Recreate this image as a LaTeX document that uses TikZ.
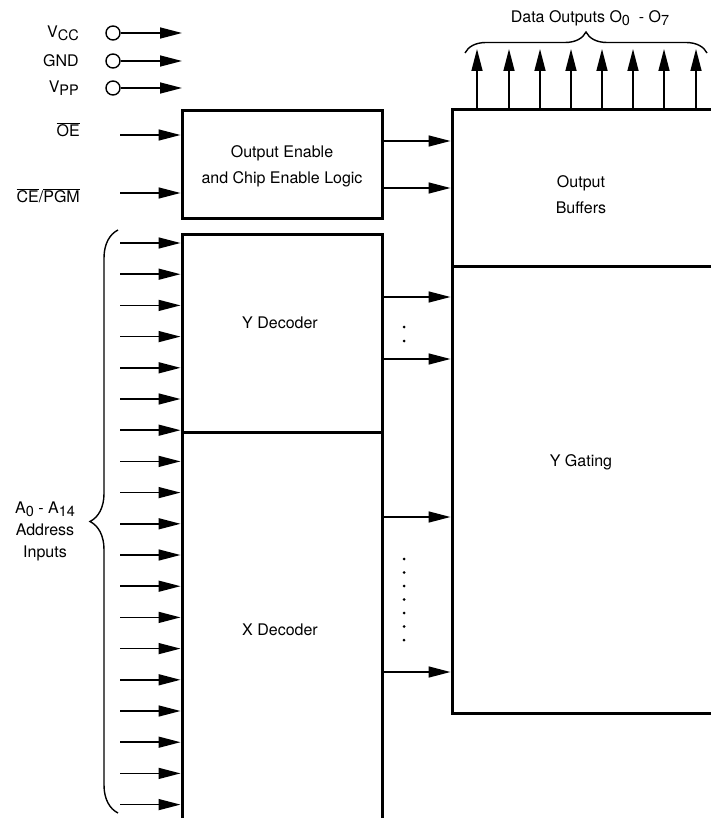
\documentclass[tikz,border=0pt]{standalone}
\usepackage{fontspec}
\setmainfont{TeX Gyre Heros}
\usetikzlibrary{arrows.meta,decorations.pathreplacing}
\newcommand{\sbs}[1]{\raisebox{-0.4ex}{\fontsize{14.5}{15}\selectfont #1}}
\begin{document}
\begin{tikzpicture}[x=1pt,y=-1pt,
  blk/.style={draw,line width=3pt,inner sep=0pt},
  sig/.style={line width=1.5pt,-{Triangle[length=22pt,width=11pt]}},
  txt/.style={font=\fontsize{16}{26}\selectfont,inner sep=0pt,align=center},
  pinc/.style={draw,circle,line width=1.4pt,minimum size=14pt,inner sep=0pt},
  dotm/.style={fill,circle,inner sep=0pt,minimum size=3pt},
  brc/.style={line width=1.4pt,decorate,decoration={brace,amplitude=#1}}
]
\useasboundingbox (0,0) rectangle (711,818);
\clip (0,0) rectangle (711,818);

% blocks
\node[blk,minimum width=200pt,minimum height=108pt] (oe) at (282,165) {};
\node[blk,minimum width=200pt,minimum height=198pt] (ydec) at (282,333) {};
\node[blk,minimum width=200pt,minimum height=398pt] (xdec) at (282,631) {};
\node[blk,minimum width=270pt,minimum height=156pt] (obuf) at (587,188) {};
\node[blk,minimum width=270pt,minimum height=447pt] (ygate) at (587,489.5) {};

% block texts
\node[txt] (toe) at (282,166) {Output Enable\\and Chip Enable Logic};
\node[txt] (tydec) at (280,323) {Y Decoder};
\node[txt] (txdec) at (280,630) {X Decoder};
\node[txt] (tobuf) at (581,195) {Output\\Buffers};
\node[txt] (tygate) at (581,462) {Y Gating};

% power pins
\node[pinc] (vcc) at (113,33) {};
\node[pinc] (gnd) at (113,61) {};
\node[pinc] (vpp) at (113,88) {};
\node[txt,anchor=east] (lvcc) at (79,33) {V\sbs{CC}};
\node[txt,anchor=east] (lgnd) at (79,61) {GND};
\node[txt,anchor=east] (lvpp) at (79,88) {V\sbs{PP}};
\coordinate (evcc) at (182,33);
\coordinate (egnd) at (182,61);
\coordinate (evpp) at (182,88);
\draw[sig] (vcc.east) -- (evcc);
\draw[sig] (gnd.east) -- (egnd);
\draw[sig] (vpp.east) -- (evpp);

% control inputs
\node[txt,anchor=east] (loe) at (80,130) {$\overline{\mbox{OE}}$};
\node[txt,anchor=east] (lce) at (80,196) {$\overline{\mbox{CE}}$/$\overline{\mbox{PGM}}$};
\coordinate (soe) at (120,135);
\coordinate (sce) at (120,193);
\draw[sig] (soe) -- (oe.west |- soe);
\draw[sig] (sce) -- (oe.west |- sce);

% oe -> output buffers
\draw[sig] (oe.east |- 0,141) -- (obuf.west |- 0,141);
\draw[sig] (oe.east |- 0,188) -- (obuf.west |- 0,188);

% address inputs
\foreach \i in {0,...,6}{
  \draw[sig] (120,{243+31.2*\i}) -- (ydec.west |- 0,{243+31.2*\i});
}
\foreach \i in {7,...,18}{
  \draw[sig] (120,{243+31.2*\i}) -- (xdec.west |- 0,{243+31.2*\i});
}
\coordinate (ab1) at (118,813);
\coordinate (ab2) at (118,230);
\draw[brc=28pt] (ab1) -- (ab2);
\node[txt,font=\fontsize{16}{22}\selectfont] (laddr) at (45,531) {A\sbs{0} - A\sbs{14}\\Address\\Inputs};

% decoder -> gating
\draw[sig] (ydec.east |- 0,297) -- (ygate.west |- 0,297);
\draw[sig] (ydec.east |- 0,359) -- (ygate.west |- 0,359);
\draw[sig] (xdec.east |- 0,517) -- (ygate.west |- 0,517);
\draw[sig] (xdec.east |- 0,672) -- (ygate.west |- 0,672);
\foreach \y in {327,341}{ \node[dotm] at (404,\y) {}; }
\foreach \i in {0,...,6}{ \node[dotm] at (404,{559+13.5*\i}) {}; }

% data outputs
\foreach \x [count=\k] in {477,509,540,571,602,633,664,696}{
  \coordinate (o\k) at (\x,49);
  \draw[sig] (obuf.north -| \x,0) -- (o\k);
}
\coordinate (db1) at (465,53);
\coordinate (db2) at (707,53);
\draw[brc=21pt] (db1) -- (db2);
\node[txt] (ldata) at (590,18) {Data Outputs O\sbs{0}\ \ - O\sbs{7}};
\end{tikzpicture}
\end{document}
